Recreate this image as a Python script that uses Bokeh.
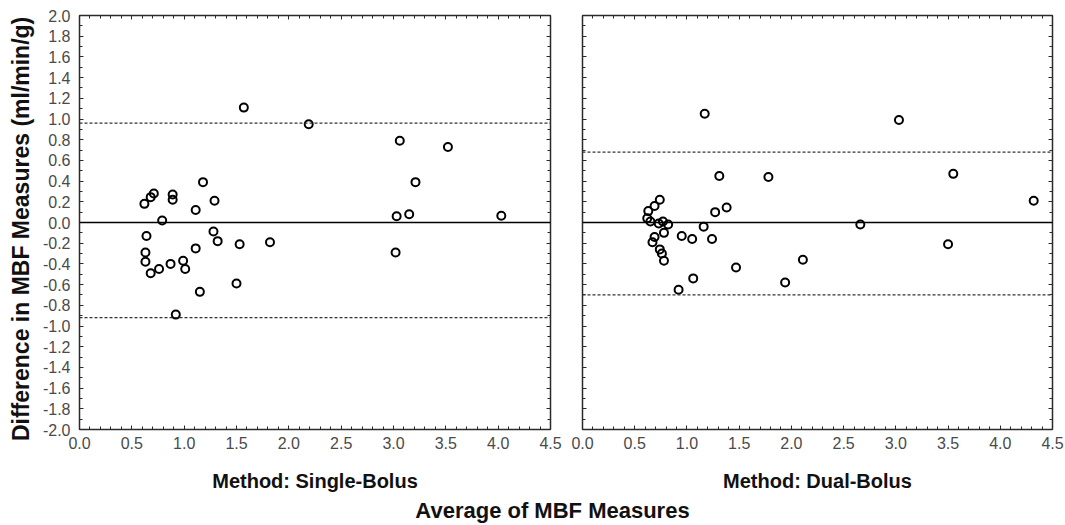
from bokeh.plotting import figure
from bokeh.models import (Range1d, LinearAxis, FixedTicker, PrintfTickFormatter, Span,
                          Label, CustomLabelingPolicy)
from bokeh.layouts import column, row
from bokeh.embed import file_html
from bokeh.resources import INLINE

# ---------------- data ----------------
single_avg = [1.57, 2.19, 3.06, 3.52, 3.21, 3.03, 3.15, 4.03, 3.02, 1.18, 1.29, 1.11,
              0.89, 0.89, 0.71, 0.68, 0.62, 0.79, 0.64, 1.28, 1.32, 1.53, 1.82, 1.11,
              0.63, 0.63, 0.68, 0.76, 0.87, 0.99, 1.01, 1.15, 1.50, 0.92]
single_diff = [1.11, 0.95, 0.79, 0.73, 0.39, 0.06, 0.08, 0.065, -0.29, 0.39, 0.21, 0.12,
               0.27, 0.22, 0.28, 0.245, 0.18, 0.02, -0.13, -0.087, -0.18, -0.21, -0.19, -0.25,
               -0.29, -0.38, -0.49, -0.45, -0.40, -0.37, -0.45, -0.67, -0.59, -0.89]
single_limits = [0.96, -0.92]

dual_avg = [1.17, 3.03, 1.31, 1.78, 3.55, 4.32, 2.66, 3.50, 2.11, 1.94, 0.74, 0.69,
            0.63, 0.62, 0.65, 0.73, 0.77, 0.82, 0.78, 0.69, 0.67, 0.74, 0.76, 0.78,
            0.95, 1.05, 1.16, 1.24, 1.27, 1.38, 1.47, 1.06, 0.92]
dual_diff = [1.05, 0.99, 0.45, 0.44, 0.47, 0.21, -0.02, -0.21, -0.36, -0.58, 0.22, 0.16,
             0.11, 0.04, 0.01, -0.01, 0.01, -0.02, -0.10, -0.14, -0.19, -0.26, -0.30, -0.37,
             -0.13, -0.16, -0.04, -0.16, 0.10, 0.145, -0.435, -0.54, -0.65]
dual_limits = [0.68, -0.70]

x_ticks = [0.0, 0.5, 1.0, 1.5, 2.0, 2.5, 3.0, 3.5, 4.0, 4.5]
y_ticks = [-2.0, -1.8, -1.6, -1.4, -1.2, -1.0, -0.8, -0.6, -0.4, -0.2, 0.0,
           0.2, 0.4, 0.6, 0.8, 1.0, 1.2, 1.4, 1.6, 1.8, 2.0]
x_minor = [round(i * 0.1, 1) for i in range(46)]
y_minor = [round(-2.0 + i * 0.1, 1) for i in range(41)]

y_title = "Difference in MBF Measures (ml/min/g)"
x_titles = ["Method: Single-Bolus", "Method: Dual-Bolus"]
bottom_title = "Average of MBF Measures"

FONT = "Liberation Sans"
FRAME = "#2a2a2a"
PANEL_H = 494
TOP, FRAME_H = 15, 414


def hide_labels():
    return CustomLabelingPolicy(code="""
        const arr = [...indices];
        for (const i of arr) { indices.unset(i); }
        return indices;
    """)


def style_axis(ax, labels=True):
    ax.axis_line_color = FRAME
    ax.axis_line_width = 1.5
    ax.major_tick_line_color = FRAME
    ax.minor_tick_line_color = FRAME
    ax.major_tick_in = 4
    ax.major_tick_out = 0
    ax.minor_tick_in = 3
    ax.minor_tick_out = 0
    ax.major_label_text_font = FONT
    ax.major_label_text_color = "#4a4a4a"
    if labels:
        ax.major_label_text_font_size = "16px"
        ax.major_label_standoff = 7
    else:
        ax.major_label_text_font_size = "1px"
        ax.major_label_standoff = 0
        ax.major_label_policy = hide_labels()
    ax.axis_label_text_font = FONT
    ax.axis_label_text_font_style = "bold"
    ax.axis_label_text_color = "#111111"


def make_panel(avg, diff, limits, xlabel, first, width, mbl, mbr):
    p = figure(width=width, height=PANEL_H,
               x_range=Range1d(0, 4.5), y_range=Range1d(-2, 2),
               output_backend="svg", toolbar_location=None,
               x_axis_type=None, y_axis_type=None,
               min_border_left=mbl, min_border_right=mbr,
               min_border_top=TOP, min_border_bottom=PANEL_H - TOP - FRAME_H)
    p.outline_line_color = None
    p.background_fill_color = "white"
    p.border_fill_color = "white"

    xt = FixedTicker(ticks=x_ticks, minor_ticks=x_minor)
    yt = FixedTicker(ticks=y_ticks, minor_ticks=y_minor)

    bottom = LinearAxis(ticker=xt, formatter=PrintfTickFormatter(format="%.1f"))
    style_axis(bottom, True)
    bottom.axis_label = xlabel
    bottom.axis_label_text_font_size = "20px"
    bottom.axis_label_standoff = 18
    p.add_layout(bottom, "below")

    top = LinearAxis(ticker=xt)
    style_axis(top, False)
    p.add_layout(top, "above")

    left = LinearAxis(ticker=yt, formatter=PrintfTickFormatter(format="%.1f"))
    style_axis(left, first)
    if first:
        left.major_label_standoff = 9
        # trailing no-break spaces shift the centred title slightly downwards,
        # as in the reference
        left.axis_label = y_title + "\u00a0" * 2
        left.axis_label_text_font_size = "23px"
        left.axis_label_standoff = 6
    p.add_layout(left, "left")

    right = LinearAxis(ticker=yt)
    style_axis(right, False)
    p.add_layout(right, "right")

    p.add_layout(Span(location=0, dimension="width", line_color="black", line_width=1.3))
    for lim in limits:
        p.add_layout(Span(location=lim, dimension="width", line_color="#333333",
                          line_width=1.3, line_dash="3 2"))

    p.scatter(avg, diff, marker="circle", size=8, fill_color=None,
              line_color="black", line_width=2)
    return p


p1 = make_panel(single_avg, single_diff, single_limits, x_titles[0], True, 566, 79, 16)
p2 = make_panel(dual_avg, dual_diff, dual_limits, x_titles[1], False, 499, 16, 13)

p3 = figure(width=1065, height=525 - PANEL_H, output_backend="svg", toolbar_location=None,
            x_axis_type=None, y_axis_type=None, min_border=0)
p3.outline_line_color = None
p3.grid.visible = False
p3.add_layout(Label(x=552, y=15, x_units="screen", y_units="screen", text=bottom_title,
                    text_align="center", text_baseline="middle",
                    text_font=FONT, text_font_style="bold", text_font_size="22px",
                    text_color="#111111"))

layout = column(row(p1, p2), p3)
open("out.html", "w").write(file_html(layout, INLINE))
